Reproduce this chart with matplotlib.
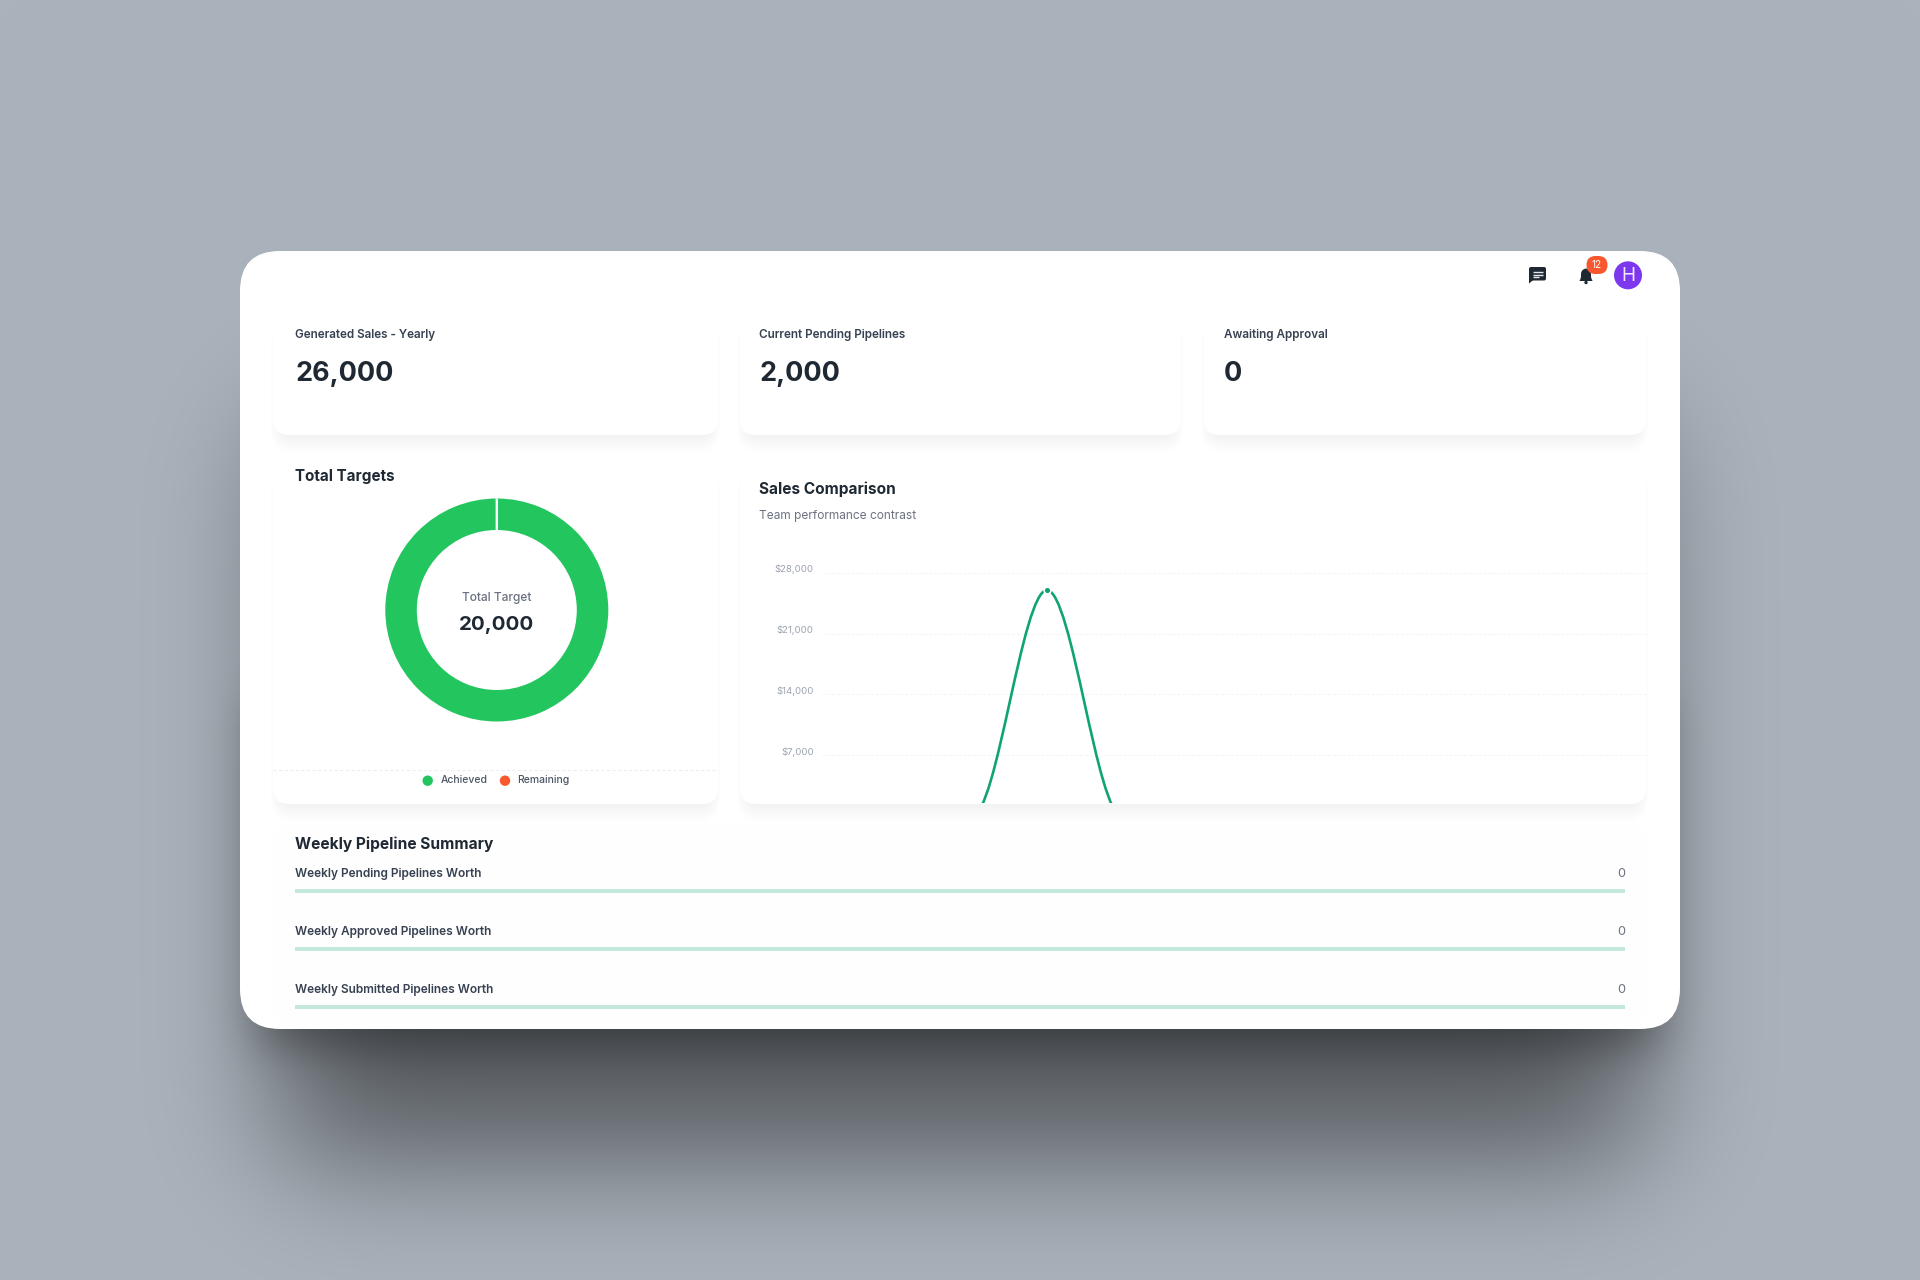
import numpy as np
import matplotlib
matplotlib.use("Agg")
import matplotlib.pyplot as plt
from matplotlib.patches import FancyBboxPatch, Circle, PathPatch, Polygon
from matplotlib.path import Path
from matplotlib.transforms import ScaledTranslation
from math import erf

# ---------- data ----------
kpi_labels = ["Generated Sales - Yearly", "Current Pending Pipelines", "Awaiting Approval"]
kpi_values = [26000, 2000, 0]

donut_labels = ["Achieved", "Remaining"]
donut_values = [20000, 0]
donut_total = 20000

months = ["Jan", "Feb", "Mar", "Apr", "May", "Jun", "Jul", "Aug", "Sep", "Oct", "Nov", "Dec"]
sales = [0, 0, 0, 26000, 0, 0, 0, 0, 0, 0, 0, 0]
sales_ticks = [7000, 14000, 21000, 28000]

weekly_labels = ["Weekly Pending Pipelines Worth", "Weekly Approved Pipelines Worth", "Weekly Submitted Pipelines Worth"]
weekly_values = [0, 0, 0]

# ---------- style ----------
FONT = "Inter"
INK = "#1f2933"
plt.rcParams["font.family"] = [FONT, "DejaVu Sans"]
W, H = 1920, 1280
BG = np.array([0xaa, 0xb2, 0xbb]) / 255
fig = plt.figure(figsize=(W / 100, H / 100), dpi=100)


def px_axes(x0, y0, x1, y1, **kw):
    return fig.add_axes([x0 / W, 1 - y1 / H, (x1 - x0) / W, (y1 - y0) / H], **kw)


def pt(px):
    return px * 0.72


# ---------- background with soft shadow ----------
base = px_axes(0, 0, W, H, zorder=0)
base.set_xlim(0, W)
base.set_ylim(H, 0)
base.axis("off")

verf = np.vectorize(erf)
xx = np.arange(W) + 0.5
yy = np.arange(H) + 0.5


def soft(c, a, b, s):
    return 0.5 * (verf((c - a) / (s * 2 ** 0.5)) - verf((c - b) / (s * 2 ** 0.5)))


def shadow(x0, x1, y0, y1, s, a):
    return a * np.outer(soft(yy, y0, y1, s), soft(xx, x0, x1, s))


alpha = 1 - (1 - shadow(280, 1640, 420, 1160, 62, 0.48)) * (1 - shadow(258, 1660, 700, 1045, 24, 0.38))
img = BG[None, None, :] * (1 - alpha[:, :, None])
base.imshow(img, extent=(0, W, H, 0), aspect="auto", zorder=0, interpolation="bilinear")
base.set_xlim(0, W)
base.set_ylim(H, 0)


def rbox(x0, y0, x1, y1, r, **kw):
    p = FancyBboxPatch((x0 + r, y0 + r), x1 - x0 - 2 * r, y1 - y0 - 2 * r,
                       boxstyle=f"round,pad={r},rounding_size={r}", **kw)
    base.add_patch(p)
    return p


# window
rbox(240, 251, 1680, 1029, 40, fc="white", ec="none", zorder=1)


# cards
def card(x0, y0, x1, y1, r=16):
    for i in range(12, 0, -1):
        rbox(x0 + 6 - i * 0.7, y0 + 14, x1 - 6 + i * 0.7, y1 + i * 1.4 + 1, r + i * 0.6, fc="#6b7280", ec="none",
             alpha=0.0022, zorder=2)
    rbox(x0, y0, x1, y1, r, fc="white", ec="none", zorder=3)


card(273, 305, 718, 435)
card(740, 305, 1181, 435)
card(1204, 305, 1646, 435)
card(273, 455, 718, 804)
card(740, 455, 1646, 804)
rbox(273, 825, 1646, 1024, 16, fc="#fefefe", ec="none", zorder=3)

T = dict(zorder=6, va="center")

# KPI
for x, lab, val in zip([295.2, 759.2, 1223.7], kpi_labels, kpi_values):
    base.text(x, 335, lab, fontsize=pt(11.7), fontweight=600, color="#374151", **T)
    base.text(x, 374, f"{val:,}", fontsize=pt(27), fontweight=700, color=INK, **T)

# Top icons
chat = FancyBboxPatch((1531, 269), 13, 9.5, boxstyle="round,pad=2,rounding_size=2", fc=INK, ec="none", zorder=6)
base.add_patch(chat)
base.add_patch(Polygon([(1529, 278), (1529, 283.5), (1534.5, 279)], fc=INK, ec="none", zorder=6))
for y, x1 in [(271.5, 1543), (274.5, 1543), (277.2, 1539)]:
    base.plot([1533, x1], [y, y], color="#e5e7eb", lw=1.0, solid_capstyle="butt", zorder=7)

bell = Path([(1579.3, 281), (1581, 279), (1581, 276), (1581, 274), (1581, 270.5), (1583.5, 269), (1586, 268.5),
             (1588.5, 269), (1591, 270.5), (1591, 274), (1591, 276), (1591, 279), (1592.7, 281), (1579.3, 281)],
            [Path.MOVETO, Path.CURVE3, Path.CURVE3, Path.LINETO, Path.CURVE4, Path.CURVE4, Path.CURVE4,
             Path.CURVE4, Path.CURVE4, Path.CURVE4, Path.LINETO, Path.CURVE3, Path.CURVE3, Path.CLOSEPOLY])
base.add_patch(PathPatch(bell, fc=INK, ec="none", zorder=6))
base.add_patch(Circle((1586, 282.5), 1.7, fc=INK, ec="none", zorder=6))
rbox(1586.5, 256, 1607.5, 274, 9, fc="#f9572d", ec="none", zorder=7)
base.text(1596.8, 265, "12", fontsize=pt(10), color="white", ha="center", zorder=8, va="center")
base.add_patch(Circle((1628, 275.3), 14, fc="#7d37ee", ec="none", zorder=6))
base.text(1628, 275.6, "H", fontsize=pt(19), color="#f3e8ff", ha="center", zorder=8, va="center")

# Donut panel
base.text(295.2, 476.5, "Total Targets", fontsize=pt(15.2), fontweight=700, color=INK, **T)
base.text(496.8, 597.5, "Total Target", fontsize=pt(12), fontweight=500, color="#6b7280", ha="center", **T)
base.text(496.8, 624.5, f"{donut_total:,}", fontsize=pt(20.5), fontweight=700, color=INK, ha="center", **T)

R = 111.5
dax = px_axes(496.8 - R, 610 - R, 496.8 + R, 610 + R, zorder=4)
wedges, _ = dax.pie(donut_values, colors=["#22c55e", "#f9572d"], startangle=90, counterclock=False,
                    radius=1, wedgeprops=dict(width=31.5 / R, linewidth=0))
wedges[1].set_edgecolor("white")
wedges[1].set_linewidth(1.7)
wedges[1].set_zorder(5)
dax.set_xlim(-1, 1)
dax.set_ylim(-1, 1)
dax.set_aspect("equal")
dax.axis("off")

base.plot([273, 718], [770, 770], color="#eceef1", lw=0.8, ls=(0, (3, 2)), zorder=5)
for cx, tx, lab, col in zip([427.7, 505], [440.7, 517], donut_labels, ["#22c55e", "#f9572d"]):
    base.add_patch(Circle((cx, 780.7), 5.2, fc=col, ec="none", zorder=6))
    base.text(tx, 780.2, lab, fontsize=pt(10.4), fontweight=500, color="#4b5563", **T)

# Sales panel
base.text(759.2, 489.5, "Sales Comparison", fontsize=pt(15.4), fontweight=700, color=INK, **T)
base.text(759.2, 515.5, "Team performance contrast", fontsize=pt(11.9), color="#6b7280", **T)

y_per_px = 7000 / 60.8
lax = px_axes(822, 565, 1647, 803, zorder=4)
lax.patch.set_alpha(0)
lax.set_xlim(0, len(months) - 1)
lax.set_ylim((816.1 - 803) * y_per_px, 28000 + (572.7 - 565) * y_per_px)
for s in lax.spines.values():
    s.set_visible(False)
lax.set_xticks([])
lax.set_yticks(sales_ticks)
lax.set_yticklabels([f"${v:,}" for v in sales_ticks])
lax.tick_params(axis="y", length=0, pad=6, labelsize=pt(9.6), labelcolor="#9ca3af")
off = ScaledTranslation(0, 4.2 / 100, fig.dpi_scale_trans)
for lab in lax.get_yticklabels():
    lab.set_transform(lab.get_transform() + off)
lax.grid(axis="y", color="#f3f4f6", lw=0.7, ls=(0, (3, 2)))
lax.set_axisbelow(True)

verts = [(0, sales[0])]
codes = [Path.MOVETO]
for i in range(len(sales) - 1):
    verts += [(i + 1 / 3, sales[i]), (i + 2 / 3, sales[i + 1]), (i + 1, sales[i + 1])]
    codes += [Path.CURVE4] * 3
lax.add_patch(PathPatch(Path(verts, codes), fc="none", ec="#10a56f", lw=1.9, zorder=3))
lax.scatter(range(len(months)), sales, s=24, color="#10a56f", edgecolors="white", linewidths=1.2, zorder=4)

# Weekly panel
base.text(295.2, 844.5, "Weekly Pipeline Summary", fontsize=pt(15.5), fontweight=700, color=INK, **T)
for y, lab, val in zip([874, 932, 990], weekly_labels, weekly_values):
    base.text(295.2, y, lab, fontsize=pt(11.9), fontweight=600, color="#374151", **T)
    base.text(1625, y, f"{val}", fontsize=pt(12.8), color="#6b7280", ha="right", **T)

bax = px_axes(295.2, 861.5, 1625, 1035.5, zorder=4)
bax.patch.set_alpha(0)
bax.set_xlim(0, 1)
bax.set_ylim(2.5, -0.5)
bax.axis("off")
pos = np.arange(len(weekly_labels))
bax.barh(pos, [1] * len(pos), height=4 / 58, color="#c4e9dc", linewidth=0)
bax.barh(pos, weekly_values, height=4 / 58, color="#10a56f", linewidth=0)

fig.savefig("out.png", dpi=100)
